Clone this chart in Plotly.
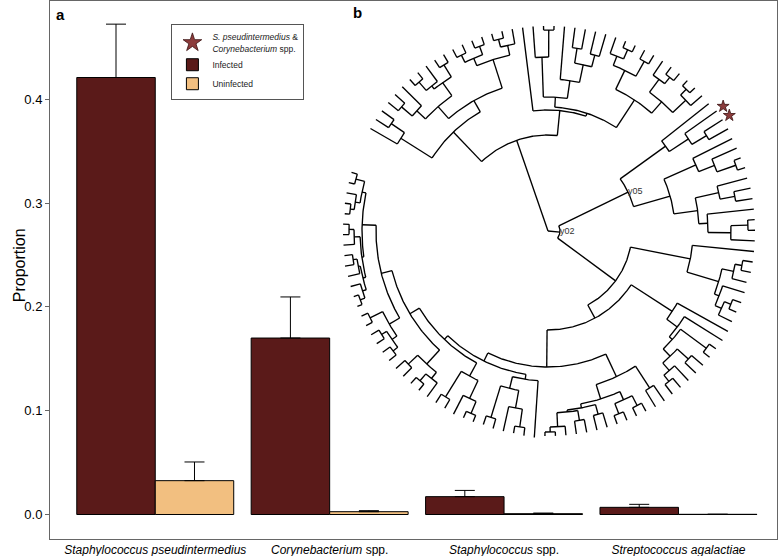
import math
import plotly.graph_objects as go

# ---------------- bar chart data (panel a) ----------------
categories = ["Staphylococcus pseudintermedius", "Corynebacterium spp.",
              "Staphylococcus spp.", "Streptococcus agalactiae"]
tick_labels = ["<i>Staphylococcus pseudintermedius</i>", "<i>Corynebacterium</i> spp.",
               "<i>Staphylococcus</i> spp.", "<i>Streptococcus agalactiae</i>"]
infected = [0.421, 0.170, 0.0172, 0.0069]
infected_err = [0.0514, 0.0396, 0.0060, 0.0029]
uninfected = [0.0326, 0.0027, 0.0008, 0.0002]
uninfected_err = [0.0180, 0.0010, 0.0006, 0.0]
y_ticks = [0.0, 0.1, 0.2, 0.3, 0.4]
y_tick_text = ["0.0", "0.1", "0.2", "0.3", "0.4"]

# ---------------- dendrogram data (panel b) ----------------
# Newick-like clades; the number after ':' is the node's distance from the root.
# Tips labelled 's' carry the S. pseudintermedius & Corynebacterium spp. star.
clade_Q1 = "((:205,:205):199,(:205,(:205,:204):199):195):190"
clade_A3 = "((:205,:205):199,:205):194"
clade_B6 = "(((:205,:206):197,:205):193,(:205,(:205,:205):200):195):191"
clade_P = "((:205,:205):198,((:205,:205):196,(:205,:205):196):190):184"
clade_N = "((:205,:205):193,((:205,:205):197,:205):188):180"
clade_M = "((:205,:205):195,(:206,(:205,:205):198):185):165"
clade_BL = "(((:204,:205):195,(:205,(:205,:206):198):180):162,:207):150"
clade_E1_right = "(:206,:206):187"
clade_E1_LR = "((:205,:205):196,(:205,:205):196):185"
clade_E1_LL = "((((:205,:205):201,:205):196,(:205,:205):192):182,(:205,:205):190):180"
clade_D1_L52 = "((:205,:205):193,:205):185"
clade_D1_U43 = "(:205,:205):190"
clade_D1_U37 = "(:205,:205):197"
clade_C1_L22 = "((:205,(:205,:206):197):190,:206):183"
clade_C1_U11 = "(:205,(:207,:207):197):190"
clade_y05_N183 = "(:207,(:207,:207):200):183"
clade_y05_LLU = "((:207,:207):190,:206):175"
clade_y05_N199 = "(:207,:206):199"
clade_y05_N185 = "(:207,s:207):185"
clade_X1a = "((:205,(:205,:205):198):190,((:205,:205):196,:205):188):172"
clade_X1b = "((:205,:205):195,((:205,:205):198,:205):188):178"
clade_N170 = "((:205,:205):182,(:205,:205):185):170"
clade_X2L = "((:205,:205):201,:205):174"
clade_ALa1 = "((:205,(:205,:205):198):190,((:205,:205):197,(:205,:205):196):188):180"
clade_ALa2 = "(((:205,:205):196,(:205,(:205,:205):197):186):182,(:205,(:205,:205):192):178):166"
clade_ALb = "((:205,:205):190,:205):174"

E2 = "(((((" + clade_Q1 + ",(" + clade_A3 + "," + clade_B6 + "):188):186," + clade_P + "):172," \
     + clade_N + "):161," + clade_M + "):150," + clade_BL + "):145"
E1 = "((" + clade_E1_LL + "," + clade_E1_LR + "):176," + clade_E1_right + "):161"
D1 = "((((" + clade_D1_L52 + "," + clade_D1_U43 + "):175," + clade_D1_U37 + "):165,:206):161,:206):148"
C1 = "((" + clade_C1_L22 + "," + clade_C1_U11 + "):178,:207):145"
Y05 = "((((" + clade_y05_N183 + ",:207):160," + clade_y05_LLU + "):151,((" + clade_y05_N199 \
      + ",:206):179,:206):162):127,((" + clade_y05_N185 + ",s:207):168,:205):145)y05:89"
AR = "(((" + clade_X1a + "," + clade_X1b + "):157,((" + clade_N170 + ",:205):152," \
     + clade_X2L + "):134):124,:205):121"
AL = "((" + clade_ALa1 + "," + clade_ALa2 + "):150," + clade_ALb + "):137"
tree_newick = "(((((" + E2 + "," + E1 + "):136," + D1 + "):99," + C1 + "):84," + Y05 + ")y02:12,(" \
              + AR + "," + AL + "):96):0;"

star_name = "<i>S. pseudintermedius</i> &<br><i>Corynebacterium</i> spp."

# ---------------- colours / fonts ----------------
C_INF = "#5a1a19"
C_UNINF = "#f2bf80"
C_STAR = "#8c3b3b"
FONT = "Liberation Sans, Arial, sans-serif"


def parse_newick(s):
    pos = 0

    def node():
        nonlocal pos
        n = {"children": [], "label": "", "depth": 0.0}
        if s[pos] == "(":
            pos += 1
            while True:
                n["children"].append(node())
                if s[pos] == ",":
                    pos += 1
                elif s[pos] == ")":
                    pos += 1
                    break
                else:
                    raise ValueError("bad newick at %d" % pos)
        st = pos
        while s[pos] not in ":,);":
            pos += 1
        n["label"] = s[st:pos]
        if s[pos] == ":":
            pos += 1
            st = pos
            while s[pos] not in ",);":
                pos += 1
            n["depth"] = float(s[st:pos])
        return n

    return node()


root = parse_newick(tree_newick)
tips = []


def collect(n):
    if not n["children"]:
        tips.append(n)
    for c in n["children"]:
        collect(c)


collect(root)
theta_start, theta_end = 163.4, 510.0
for i, t in enumerate(tips):
    t["theta"] = theta_start + i * (theta_end - theta_start) / (len(tips) - 1)


def set_theta(n):
    if n["children"]:
        for c in n["children"]:
            set_theta(c)
        n["theta"] = sum(c["theta"] for c in n["children"]) / len(n["children"])


set_theta(root)


def pol(r, th):
    a = math.radians(th)
    return r * math.cos(a), r * math.sin(a)


lx, ly = [], []
labels = []


def draw(n):
    if n["label"] in ("y02", "y05"):
        labels.append((n["label"],) + pol(n["depth"], n["theta"]))
    if not n["children"]:
        return
    r = n["depth"]
    ths = [c["theta"] for c in n["children"]]
    a0, a1 = min(ths), max(ths)
    steps = max(2, int((a1 - a0) / 0.5) + 1)
    for k in range(steps + 1):
        x, y = pol(r, a0 + (a1 - a0) * k / steps)
        lx.append(x); ly.append(y)
    lx.append(None); ly.append(None)
    for c in n["children"]:
        x0, y0 = pol(r, c["theta"])
        x1, y1 = pol(c["depth"], c["theta"])
        lx.extend([x0, x1, None]); ly.extend([y0, y1, None])
        draw(c)


draw(root)
star_pts = [pol(t["depth"] + 8, t["theta"]) for t in tips if t["label"] == "s"]

fig = go.Figure()
fig.add_trace(go.Bar(
    x=categories, y=infected, name="Infected", legendrank=2,
    marker=dict(color=C_INF, line=dict(color="black", width=1)),
    error_y=dict(type="data", symmetric=False, array=infected_err,
                 arrayminus=[0] * len(infected), color="black", thickness=1, width=10),
))
fig.add_trace(go.Bar(
    x=categories, y=uninfected, name="Uninfected", legendrank=3,
    marker=dict(color=C_UNINF, line=dict(color="black", width=1)),
    error_y=dict(type="data", symmetric=False, array=uninfected_err,
                 arrayminus=[0] * len(uninfected), color="black", thickness=1, width=10),
))
fig.add_trace(go.Scatter(
    x=lx, y=ly, mode="lines", line=dict(color="black", width=1.35),
    xaxis="x2", yaxis="y2", showlegend=False, hoverinfo="skip",
))
fig.add_trace(go.Scatter(
    x=[p[1] for p in labels], y=[p[2] for p in labels], text=[p[0] for p in labels],
    mode="text", textposition="middle right",
    textfont=dict(family=FONT, size=9, color="#333"),
    xaxis="x2", yaxis="y2", showlegend=False, hoverinfo="skip",
))
fig.add_trace(go.Scatter(
    x=[p[0] for p in star_pts], y=[p[1] for p in star_pts], mode="markers",
    name=star_name, showlegend=False,
    marker=dict(symbol="star", size=9, color=C_STAR, line=dict(color="#3a1010", width=0.8)),
    xaxis="x2", yaxis="y2", hoverinfo="skip",
))
# legend entry for the star marker (larger symbol, as in the reference key)
fig.add_trace(go.Scatter(
    x=[None], y=[None], mode="markers", name=star_name, legendrank=1,
    marker=dict(symbol="star", size=14, color=C_STAR, line=dict(color="#3a1010", width=0.8)),
    xaxis="x2", yaxis="y2",
))

fig.update_layout(
    width=779, height=556,
    margin=dict(l=50, r=2, t=1, b=17),
    paper_bgcolor="white", plot_bgcolor="white",
    font=dict(family=FONT, color="black"),
    barmode="group", bargap=0.1, bargroupgap=0,
    xaxis=dict(
        type="category", categoryorder="array", categoryarray=categories,
        tickvals=categories, ticktext=tick_labels,
        range=[-0.6035, 3.565], showgrid=False, zeroline=False,
        showline=True, linecolor="#666", linewidth=1, mirror=True,
        ticks="", tickfont=dict(size=12, family=FONT, color="black"),
        automargin=False, fixedrange=True,
    ),
    yaxis=dict(
        range=[-0.0236, 0.4947], tickvals=y_ticks, ticktext=y_tick_text,
        showgrid=False, zeroline=False, showline=True, linecolor="#666",
        linewidth=1, mirror=True, ticks="outside", ticklen=4, tickcolor="#666",
        tickfont=dict(size=13, family=FONT, color="black"),
        automargin=False, fixedrange=True,
    ),
    xaxis2=dict(overlaying="x", anchor="y2", range=[-498, 229], visible=False, fixedrange=True),
    yaxis2=dict(overlaying="y", anchor="x2", range=[-308, 230], visible=False, fixedrange=True),
    legend=dict(
        x=0.167, y=0.957, xanchor="left", yanchor="top",
        bgcolor="white", bordercolor="#555", borderwidth=1,
        font=dict(size=8.5, family=FONT, color="#222"),
        itemwidth=30, tracegroupgap=2,
    ),
    annotations=[
        dict(text="Proportion", xref="paper", yref="paper", x=-0.0426, y=0.509,
             textangle=-90, showarrow=False, xanchor="center", yanchor="middle",
             font=dict(size=16, family=FONT, color="black")),
        dict(text="<b>a</b>", xref="paper", yref="paper", x=0.0151, y=0.9758,
             showarrow=False, xanchor="center", yanchor="middle",
             font=dict(size=15, family=FONT, color="black")),
        dict(text="<b>b</b>", xref="paper", yref="paper", x=0.4223, y=0.9777,
             showarrow=False, xanchor="center", yanchor="middle",
             font=dict(size=15, family=FONT, color="black")),
    ],
)

fig.write_html("out.html", config={"displayModeBar": False},
               post_script="document.body.style.margin='0px';document.body.style.overflow='hidden';")
